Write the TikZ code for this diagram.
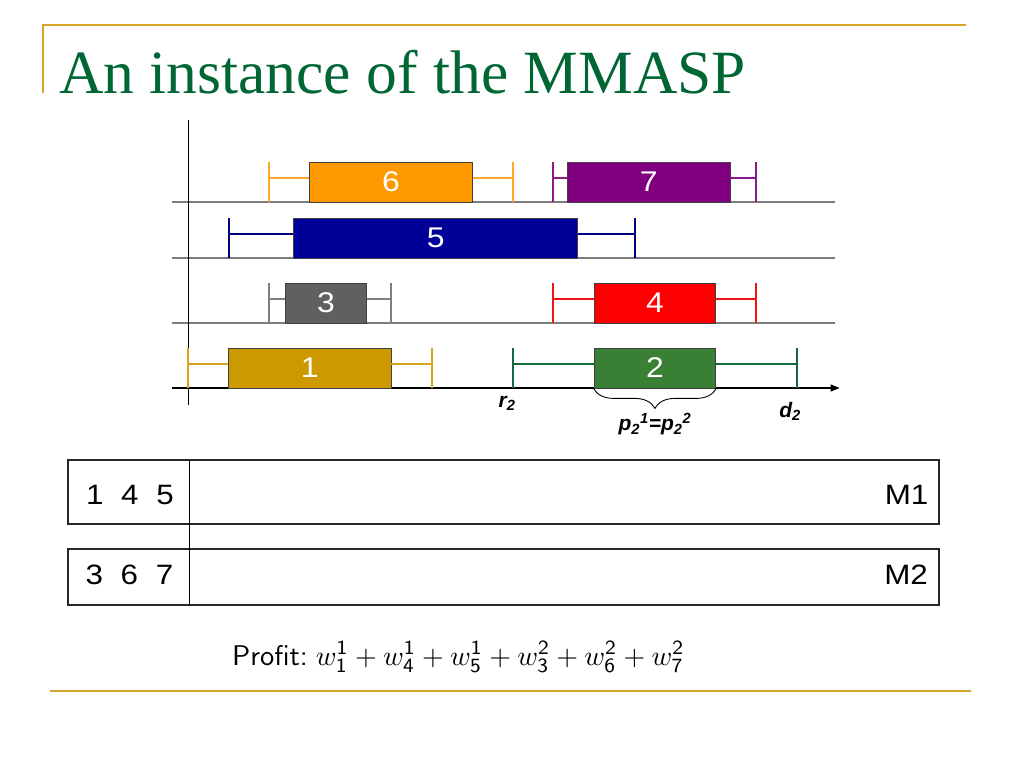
\documentclass[tikz,border=0pt]{standalone}
\usepackage{graphicx}
\usepackage[no-math]{fontspec}
\newfontfamily\arialf{Liberation Sans}
\newfontfamily\arialw[FakeStretch=1.12]{Liberation Sans}
\newfontfamily\timesf{Liberation Serif}
\usetikzlibrary{arrows.meta,decorations.pathreplacing}
\newcommand{\sdig}[1]{\mbox{\fontsize{7.2}{8}\selectfont\sffamily #1}}
\definecolor{gold}{RGB}{214,164,40}
\definecolor{titlegreen}{RGB}{0,102,51}
\definecolor{gridgray}{RGB}{125,125,125}
\definecolor{fa}{RGB}{204,153,0}\definecolor{la}{RGB}{217,165,32}
\definecolor{fb}{RGB}{58,128,52}\definecolor{lb}{RGB}{20,105,62}
\definecolor{fc}{RGB}{96,96,96}\definecolor{lc}{RGB}{128,128,128}
\definecolor{fd}{RGB}{255,0,0}\definecolor{ld}{RGB}{240,20,20}
\definecolor{fe}{RGB}{0,0,153}\definecolor{le}{RGB}{0,0,128}
\definecolor{ff}{RGB}{255,153,0}\definecolor{lf}{RGB}{255,168,40}
\definecolor{fg}{RGB}{128,0,128}\definecolor{lg}{RGB}{140,26,140}
% #1 name, #2 fill, #3 line colour, #4 release, #5 start, #6 end, #7 deadline, #8 baseline y, #9 label
\newcommand{\drawjob}[9]{%
  \node[jobbar, fill=#2, minimum width={(#6-#5)*40.6pt}] (#1) at ({(#5+#6)/2},{#8-20}) {#9};
  \coordinate (#1r) at (#4,{#8-24});
  \coordinate (#1d) at (#7,{#8-24});
  \draw[intline, draw=#3] (#1r) -- (#1r -| #1.west);
  \draw[intline, draw=#3] (#1.east |- #1d) -- (#1d);
  \draw[intline, draw=#3] (#4,{#8-40}) -- (#4,#8);
  \draw[intline, draw=#3] (#7,{#8-40}) -- (#7,#8);
}
\begin{document}
\begin{tikzpicture}[x=1pt,y=-1pt,
  goldline/.style={draw=gold, line width=2pt},
  gridline/.style={draw=gridgray, line width=1.5pt},
  axisline/.style={draw=black, line width=1.3pt},
  jobbar/.style={draw=black!75, line width=0.8pt, minimum height=40pt, inner sep=0pt, text=white, font=\arialw\fontsize{28.5}{30}\selectfont},
  intline/.style={line width=2pt},
  lab/.style={font=\arialf\bfseries\itshape\fontsize{21}{24}\selectfont, inner sep=0pt},
  rowbox/.style={draw=black!85, line width=1.3pt, inner sep=0pt},
  tabtext/.style={font=\arialw\fontsize{28}{30}\selectfont, inner sep=0pt},
  bracestyle/.style={draw=black, line width=0.9pt, decorate, decoration={brace, amplitude=20pt}}]
\useasboundingbox (0,0) rectangle (1024,768);
% frame
\coordinate (ftl) at (43,25);
\coordinate (ftr) at (966,25);
\coordinate (flb) at (43,93);
\draw[goldline] (flb) -- (ftl) -- (ftr);
\coordinate (fbl) at (50,691);
\coordinate (fbr) at (971,691);
\draw[goldline] (fbl) -- (fbr);
\node[anchor=base west, inner sep=0pt, text=titlegreen, font=\timesf\fontsize{61.5}{70}\selectfont] (title) at (59,93) {An instance of the MMASP};
% chart
\begin{scope}[shift={(188,0)}, x=40.6pt]
  \draw[gridline] (-0.4,202) -- (15.94,202);
  \draw[gridline] (-0.4,258) -- (15.94,258);
  \draw[gridline] (-0.4,323) -- (15.94,323);
  \coordinate (ax0) at (-0.4,388);
  \coordinate (ax1) at (16.05,388);
  \draw[axisline, -{Triangle[length=9pt,width=7pt]}] (ax0) -- (ax1);
  \coordinate (ay0) at (0,120);
  \coordinate (ay1) at (0,405);
  \draw[axisline, line width=1pt] (ay0) -- (ay1);
  \drawjob{j6}{ff}{lf}{2}{3}{7}{8}{202}{6}
  \drawjob{j7}{fg}{lg}{9}{9.35}{13.35}{14}{202}{7}
  \drawjob{j5}{fe}{le}{1}{2.6}{9.6}{11}{258}{5}
  \drawjob{j3}{fc}{lc}{2}{2.4}{4.4}{5}{323}{3}
  \drawjob{j4}{fd}{ld}{9}{10}{13}{14}{323}{4}
  \drawjob{j1}{fa}{la}{0}{1}{5}{6}{388}{1}
  \drawjob{j2}{fb}{lb}{8}{10}{13}{15}{388}{2}
  \draw[bracestyle] (j2.south east) -- (j2.south west);
  \node[lab, anchor=north] (r2) at (7.86,396) {r\textsubscript{2}};
  \node[lab, anchor=north] (d2) at (14.83,402) {d\textsubscript{2}};
  \node[lab, anchor=north] (p2) at (11.5,413) {p\textsubscript{2}\textsuperscript{1}=p\textsubscript{2}\textsuperscript{2}};
\end{scope}
% machines table
\node[rowbox, minimum width=871pt, minimum height=64pt] (row1) at (503.5,492) {};
\node[rowbox, minimum width=871pt, minimum height=56pt] (row2) at (503.5,577) {};
\coordinate (dtop) at (189,460);
\coordinate (dbot) at (189,605);
\draw[line width=1pt] (dtop) -- (dbot);
\node[tabtext, anchor=base west] (jobs1) at (86,504) {1\hspace{17.6pt}4\hspace{17.6pt}5};
\node[tabtext, anchor=base west] (jobs2) at (85.5,584) {3\hspace{17.6pt}6\hspace{17.6pt}7};
\node[tabtext, anchor=base east] (m1) at (928.5,504) {M1};
\node[tabtext, anchor=base east] (m2) at (928,584) {M2};
% profit
\node[anchor=base west, inner sep=0pt] (profit) at (232,665) {\scalebox{2.85}{\fontsize{10}{12}\selectfont\sffamily Profit:}\hspace{8pt}\scalebox{2.8}{\fontsize{10}{12}\selectfont$w_{\sdig{1}}^{\sdig{1}}+w_{\sdig{4}}^{\sdig{1}}+w_{\sdig{5}}^{\sdig{1}}+w_{\sdig{3}}^{\sdig{2}}+w_{\sdig{6}}^{\sdig{2}}+w_{\sdig{7}}^{\sdig{2}}$}};
\end{tikzpicture}
\end{document}
